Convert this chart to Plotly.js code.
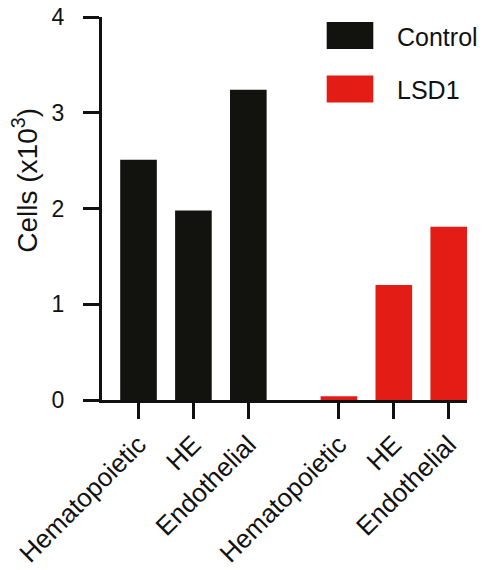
<!DOCTYPE html>
<html>
<head>
<meta charset="utf-8">
<script src="https://cdn.plot.ly/plotly-3.0.1.min.js"></script>
<style>html,body{margin:0;padding:0;background:#fff;}#chart{width:485px;height:570px;}</style>
</head>
<body>
<div id="chart"></div>
<script>
// Data
var categories = ["Hematopoietic", "HE", "Endothelial"];
var seriesNames = ["Control", "LSD1"];
var controlValues = [2.51, 1.98, 3.24];
var lsd1Values = [0.04, 1.20, 1.81];
var yTickVals = [0, 1, 2, 3, 4];
var yTitle = "Cells (x10<sup>3</sup>)";

// Styles / layout constants
var colors = ["#12120e", "#e31d15"];
var groupOffset = 3.65;
var FONT = "Liberation Sans, Arial, Helvetica, sans-serif";

var xControl = categories.map(function (c, i) { return i; });
var xLsd1 = categories.map(function (c, i) { return i + groupOffset; });

var traces = [
  {type: "bar", x: xControl, y: controlValues, name: seriesNames[0], width: 0.667,
   marker: {color: colors[0], line: {width: 0}}, showlegend: false, hoverinfo: "y"},
  {type: "bar", x: xLsd1, y: lsd1Values, name: seriesNames[1], width: 0.667,
   marker: {color: colors[1], line: {width: 0}}, showlegend: false, hoverinfo: "y"}
];

var layout = {
  width: 485, height: 570,
  margin: {l: 102, r: 18, t: 17, b: 170, pad: 0},
  paper_bgcolor: "#fff", plot_bgcolor: "#fff",
  font: {family: FONT, color: "#111"},
  xaxis: {
    range: [-0.665, xLsd1[2] + 0.333],
    tickvals: xControl.concat(xLsd1),
    ticktext: categories.concat(categories),
    tickangle: -45,
    ticks: "outside", ticklen: 16, tickwidth: 3, tickcolor: "#111",
    showline: true, linewidth: 3, linecolor: "#111",
    showgrid: false, zeroline: false,
    tickfont: {size: 26, family: FONT, color: "#111"}
  },
  yaxis: {
    range: [0, 4],
    tickvals: yTickVals,
    ticktext: yTickVals.map(String),
    ticks: "outside", ticklen: 16, tickwidth: 3, tickcolor: "#111",
    showline: true, linewidth: 3, linecolor: "#111",
    showgrid: false, zeroline: false,
    ticklabelstandoff: 14,
    tickfont: {size: 23, family: FONT, color: "#111"}
  },
  shapes: [
    {type: "rect", xref: "paper", yref: "paper", x0: 0.6156, x1: 0.7433, y0: 0.9164, y1: 0.987,
     fillcolor: colors[0], line: {width: 0}},
    {type: "rect", xref: "paper", yref: "paper", x0: 0.6156, x1: 0.7433, y0: 0.777, y1: 0.8475,
     fillcolor: colors[1], line: {width: 0}}
  ],
  annotations: [
    {xref: "paper", yref: "paper", x: 0.8027, y: 0.949, xanchor: "left", yanchor: "middle",
     text: seriesNames[0], showarrow: false, font: {size: 25, family: FONT, color: "#111"}},
    {xref: "paper", yref: "paper", x: 0.8027, y: 0.81, xanchor: "left", yanchor: "middle",
     text: seriesNames[1], showarrow: false, font: {size: 25, family: FONT, color: "#111"}},
    {xref: "paper", yref: "paper", x: -0.211, y: 0.575, xanchor: "center", yanchor: "middle",
     textangle: -90, text: yTitle, showarrow: false, font: {size: 28, family: FONT, color: "#111"}}
  ]
};

Plotly.newPlot("chart", traces, layout, {displayModeBar: false, staticPlot: true});
</script>
</body>
</html>
